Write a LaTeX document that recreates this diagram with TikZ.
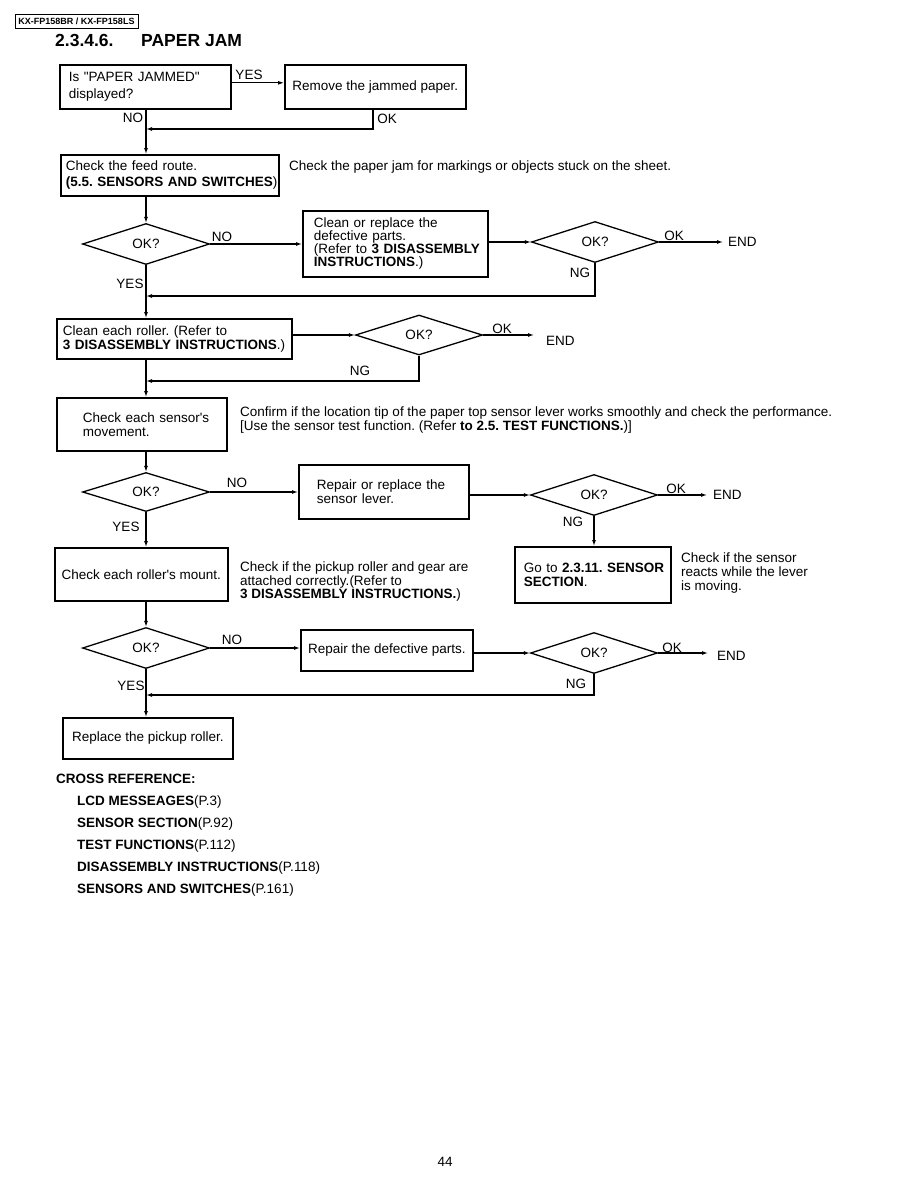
\documentclass[tikz,border=0pt]{standalone}
\usepackage{fontspec}
\setmainfont{Liberation Sans}[Ligatures=TeXOff]
\usetikzlibrary{shapes.geometric,arrows.meta,calc}
\newcommand\fsn{\fontsize{13.5}{14}\selectfont}
\frenchspacing
\begin{document}
\begin{tikzpicture}[x=1pt,y=-1pt,
 box/.style={draw, line width=1.6pt, inner ysep=0pt, align=left, font=\fsn, anchor=north west},
 cbox/.style={draw, line width=1.6pt, inner sep=0pt, align=center, font=\fsn, anchor=north west},
 dia/.style={diamond, draw, line width=1.3pt, minimum width=127pt, minimum height=41pt, inner sep=0pt, aspect=3, font=\fsn},
 arr/.style={line width=1.1pt, -{Latex[length=6pt,width=4pt]}},
 lbl/.style={inner sep=0pt, font=\fsn},
 txt/.style={inner sep=0pt, font=\fsn, anchor=base west},
 bx/.style={font=\fsn\bfseries},
]
\fill[white] (0,0) rectangle (918,1188);
\useasboundingbox (0,0) rectangle (918,1188);

% header and title
\node[draw, line width=0.8pt, inner sep=0pt, minimum width=123pt, minimum height=14pt,
      font=\fontsize{9}{10}\selectfont\bfseries] (hdr) at (76.5,21) {KX-FP158BR / KX-FP158LS};
\node[txt, font=\fontsize{17.5}{20}\selectfont\bfseries] (t1) at (55,47) {2.3.4.6.};
\node[txt, font=\fontsize{17.5}{20}\selectfont\bfseries] (t2) at (141,47) {PAPER JAM};

% boxes
\node[box, minimum width=171pt, minimum height=44pt, text width=153pt, inner xsep=9pt,
      font=\fontsize{13.5}{17}\selectfont] (b1) at (59,64) {\mbox{Is "PAPER JAMMED"}\\\mbox{displayed?}};
\node[cbox, minimum width=181pt, minimum height=44pt] (b2) at (284,64) {Remove the jammed paper.};
\node[box, minimum width=218pt, minimum height=41pt, text width=208pt, inner xsep=5pt,
      font=\fontsize{13.5}{16}\selectfont] (b3) at (60,154)
      {\mbox{Check the feed route.}\\\mbox{\textbf{(5.5. SENSORS AND SWITCHES})}};
\node[box, minimum width=185pt, minimum height=66pt, text width=163pt, inner xsep=11pt,
      font=\fontsize{13.5}{13}\selectfont] (b4) at (302,210)
      {\mbox{Clean or replace the}\\\mbox{defective parts.}\\\mbox{(Refer to \textbf{3 DISASSEMBLY}}\\\mbox{\textbf{INSTRUCTIONS}.)}};
\node[box, minimum width=235pt, minimum height=40pt, text width=223pt, inner xsep=6pt] (b5) at (56,318)
      {\mbox{Clean each roller. (Refer to}\\\mbox{\textbf{3 DISASSEMBLY INSTRUCTIONS}.)}};
\node[box, minimum width=170pt, minimum height=53pt, text width=118pt, inner xsep=26pt] (b6) at (56,397)
      {\mbox{Check each sensor's}\\\mbox{movement.}};
\node[box, minimum width=170pt, minimum height=54pt, text width=134pt, inner xsep=18pt] (b7) at (298,464)
      {\mbox{Repair or replace the}\\\mbox{sensor lever.}};
\node[cbox, minimum width=173pt, minimum height=53pt] (b8) at (54,547) {Check each roller's mount.};
\node[box, minimum width=156pt, minimum height=56pt, text width=138pt, inner xsep=9pt] (b9) at (514,546)
      {\mbox{Go to \textbf{2.3.11. SENSOR}}\\\mbox{\textbf{SECTION}.}};
\node[cbox, minimum width=172pt, minimum height=41pt] (b10) at (300,629) {Repair the defective parts.};
\node[cbox, minimum width=170pt, minimum height=41pt] (b11) at (62,717) {Replace the pickup roller.};

% diamonds
\node[dia] (d1) at (146,244) {OK?};
\node[dia] (d2) at (595,242) {OK?};
\node[dia, minimum height=40pt] (d3) at (419,335) {OK?};
\node[dia, minimum height=39pt] (d4) at (146,492) {OK?};
\node[dia] (d5) at (594,495) {OK?};
\node[dia] (d6) at (146,648) {OK?};
\node[dia] (d7) at (594,653) {OK?};

% END labels
\node[lbl, anchor=west] (e1) at (728,242) {END};
\node[lbl, anchor=west] (e3) at (546,341) {END};
\node[lbl, anchor=west] (e5) at (713,495) {END};
\node[lbl, anchor=west] (e7) at (717,656) {END};

% branch labels
\node[lbl] (l1) at (249,75) {YES};
\node[lbl] (l2) at (133,118) {NO};
\node[lbl] (l3) at (387,119) {OK};
\node[lbl] (l4) at (222,237) {NO};
\node[lbl] (l5) at (674,236) {OK};
\node[lbl] (l6) at (580,273) {NG};
\node[lbl] (l7) at (130,284) {YES};
\node[lbl] (l8) at (502,329) {OK};
\node[lbl] (l9) at (360,371) {NG};
\node[lbl] (l10) at (237,483) {NO};
\node[lbl] (l11) at (126,527) {YES};
\node[lbl] (l12) at (676,489) {OK};
\node[lbl] (l13) at (573,522) {NG};
\node[lbl] (l14) at (232,640) {NO};
\node[lbl] (l15) at (672,648) {OK};
\node[lbl] (l16) at (576,684) {NG};
\node[lbl] (l17) at (131,686) {YES};

% side texts
\node[txt] (s1) at (289,170.8) {Check the paper jam for markings or objects stuck on the sheet.};
\node[txt] (s2) at (240,416.8) {Confirm if the location tip of the paper top sensor lever works smoothly and check the performance.};
\node[txt] (s3) at (240,430.8) {[Use the sensor test function. (Refer \textbf{to 2.5. TEST FUNCTIONS.})]};
\node[txt] (s4) at (240,571.8) {Check if the pickup roller and gear are};
\node[txt] (s5) at (240,585.8) {attached correctly.(Refer to};
\node[txt] (s6) at (240,598.8) {\textbf{3 DISASSEMBLY INSTRUCTIONS.})};
\node[txt] (s7) at (681,562.8) {Check if the sensor};
\node[txt] (s8) at (681,576.8) {reacts while the lever};
\node[txt] (s9) at (681,590.8) {is moving.};

% cross reference
\node[txt, bx] (c0) at (56,783.8) {CROSS REFERENCE:};
\node[txt] (c1) at (77,805.8) {\textbf{LCD MESSEAGES}(P.3)};
\node[txt] (c2) at (77,827.8) {\textbf{SENSOR SECTION}(P.92)};
\node[txt] (c3) at (77,849.8) {\textbf{TEST FUNCTIONS}(P.112)};
\node[txt] (c4) at (77,871.8) {\textbf{DISASSEMBLY INSTRUCTIONS}(P.118)};
\node[txt] (c5) at (77,893.8) {\textbf{SENSORS AND SWITCHES}(P.161)};
\node[txt] (pg) at (437.5,1166.8) {44};

% connectors
\coordinate (cx) at (146,0);
\coordinate (c373) at (373,0);
\coordinate (j1) at (146,129);
\coordinate (j2) at (146,296);
\coordinate (j3) at (146,381);
\coordinate (j7) at (146,695);
\draw[arr] ($(b1.east)+(0,-4)$) -- ($(b2.west)+(0,-4)$);
\draw[arr] (b1.south -| cx) -- (b3.north -| cx);
\draw[arr] (b2.south -| c373) |- (j1);
\draw[arr] (b3.south -| cx) -- (d1.north);
\draw[arr] (d1.east) -- (d1.east -| b4.west);
\draw[arr] (b4.east |- d2.west) -- (d2.west);
\draw[arr, shorten >=5pt] (d2.east) -- (d2.east -| e1.west);
\draw[arr] (d2.south) |- (j2);
\draw[arr] (d1.south) -- (b5.north -| cx);
\draw[arr] (b5.east |- d3.west) -- (d3.west);
\draw[arr, shorten >=12pt] (d3.east) -- (d3.east -| e3.west);
\draw[arr] (d3.south) |- (j3);
\draw[arr] (b5.south -| cx) -- (b6.north -| cx);
\draw[arr] (b6.south -| cx) -- (d4.north);
\draw[arr] (d4.east) -- (d4.east -| b7.west);
\draw[arr] (b7.east |- d5.west) -- (d5.west);
\draw[arr, shorten >=6pt] (d5.east) -- (d5.east -| e5.west);
\draw[arr] (d5.south) -- (d5.south |- b9.north);
\draw[arr] (d4.south) -- (b8.north -| cx);
\draw[arr] (b8.south -| cx) -- (d6.north);
\draw[arr] (d6.east) -- (d6.east -| b10.west);
\draw[arr] (b10.east |- d7.west) -- (d7.west);
\draw[arr, shorten >=9pt] (d7.east) -- (d7.east -| e7.west);
\draw[arr] (d7.south) |- (j7);
\draw[arr] (d6.south) -- (b11.north -| cx);
\end{tikzpicture}
\end{document}
